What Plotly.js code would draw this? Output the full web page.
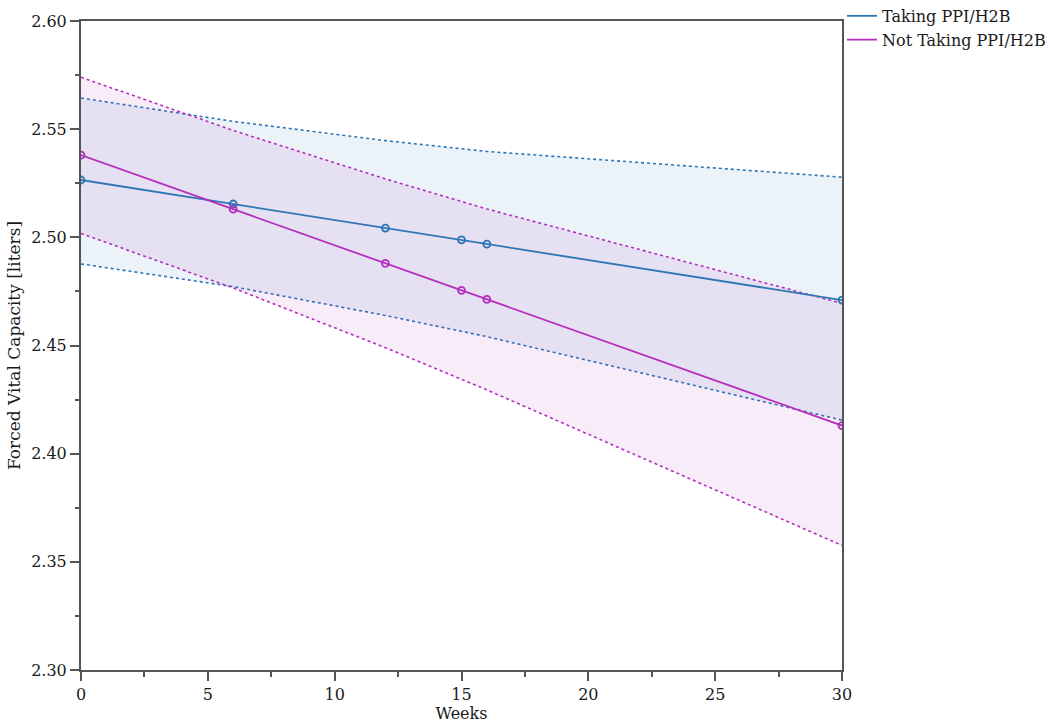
<!DOCTYPE html>
<html>
<head>
<meta charset="utf-8">
<script src="https://cdn.plot.ly/plotly-3.0.1.min.js"></script>
<style>
  body { margin: 0; background: #fff; }
  #myDiv { width: 1050px; height: 723px; }
</style>
</head>
<body>
<div id="myDiv"></div>
<script>
// weeks at which the model was evaluated
var weeks = [0, 6, 12, 15, 16, 30];

// Taking PPI/H2B
var takingMean  = [2.5265, 2.5154, 2.5043, 2.4988, 2.4969, 2.4710];
var takingUpper = [2.5644, 2.5536, 2.5447, 2.5410, 2.5397, 2.5278];
var takingLower = [2.4877, 2.4772, 2.4639, 2.4566, 2.4541, 2.4155];

// Not taking PPI/H2B
var notMean  = [2.5380, 2.5130, 2.4880, 2.4755, 2.4713, 2.4130];
var notUpper = [2.5740, 2.5494, 2.5270, 2.5165, 2.5131, 2.4695];
var notLower = [2.5018, 2.4766, 2.4490, 2.4345, 2.4295, 2.3576];

var blue = '#2e75b6';
var purple = '#b52fbf';

var data = [
    { x: weeks, y: takingLower, mode: 'lines', line: { color: blue, width: 1.6, dash: 'dot' },
      showlegend: false, hoverinfo: 'skip' },
    { x: weeks, y: takingUpper, mode: 'lines', line: { color: blue, width: 1.6, dash: 'dot' },
      fill: 'tonexty', fillcolor: 'rgba(46,117,182,0.09)', showlegend: false, hoverinfo: 'skip' },
    { x: weeks, y: notLower, mode: 'lines', line: { color: purple, width: 1.6, dash: 'dot' },
      showlegend: false, hoverinfo: 'skip' },
    { x: weeks, y: notUpper, mode: 'lines', line: { color: purple, width: 1.6, dash: 'dot' },
      fill: 'tonexty', fillcolor: 'rgba(181,47,191,0.09)', showlegend: false, hoverinfo: 'skip' },
    { x: weeks, y: takingMean, mode: 'lines', name: 'Taking PPI/H2B',
      line: { color: blue, width: 1.8 } },
    { x: weeks, y: notMean, mode: 'lines', name: 'Not Taking PPI/H2B',
      line: { color: purple, width: 1.8 } },
    { x: weeks, y: takingMean, mode: 'markers', showlegend: false,
      marker: { symbol: 'circle-open', size: 7, color: blue, line: { width: 1.8 } } },
    { x: weeks, y: notMean, mode: 'markers', showlegend: false,
      marker: { symbol: 'circle-open', size: 7, color: purple, line: { width: 1.8 } } }
];

var serif = 'DejaVu Serif, Liberation Serif, serif';
var tickFont = { family: serif, size: 16, color: '#1a1a1a' };
var titleFont = { family: serif, size: 17, color: '#1a1a1a' };

var layout = {
    width: 1050,
    height: 723,
    paper_bgcolor: '#fff',
    plot_bgcolor: '#fff',
    font: tickFont,
    margin: { l: 81, r: 208, t: 21, b: 53, autoexpand: false },
    xaxis: {
        range: [0, 30],
        tickvals: [0, 5, 10, 15, 20, 25, 30],
        ticks: 'outside',
        ticklen: 9,
        tickwidth: 1.5,
        tickcolor: '#555',
        showline: true,
        linecolor: '#555',
        linewidth: 2,
        mirror: true,
        showgrid: false,
        zeroline: false,
        minor: { dtick: 2.5, ticks: 'outside', ticklen: 5, tickcolor: '#555', tickwidth: 1.5 },
        title: { text: 'Weeks', font: { family: serif, size: 16, color: '#1a1a1a' }, standoff: 1 },
        tickfont: tickFont
    },
    yaxis: {
        range: [2.30, 2.60],
        tickvals: [2.30, 2.35, 2.40, 2.45, 2.50, 2.55, 2.60],
        tickformat: '.2f',
        ticks: 'outside',
        ticklen: 9,
        tickwidth: 1.5,
        tickcolor: '#555',
        showline: true,
        linecolor: '#555',
        linewidth: 2,
        mirror: true,
        showgrid: false,
        zeroline: false,
        minor: { dtick: 0.025, ticks: 'outside', ticklen: 4, tickcolor: '#555', tickwidth: 1.5 },
        title: { text: 'Forced Vital Capacity [liters]', font: titleFont, standoff: 6 },
        tickfont: tickFont
    },
    legend: {
        x: 1.0,
        xanchor: 'left',
        y: 1.034,
        yanchor: 'top',
        font: { family: serif, size: 16, color: '#1a1a1a' },
        traceorder: 'normal',
        bgcolor: 'rgba(0,0,0,0)',
        tracegroupgap: 0
    }
};

var config = {
    responsive: false,
    displayModeBar: false
};

Plotly.newPlot(document.getElementById('myDiv'), data, layout, config);
</script>
</body>
</html>
